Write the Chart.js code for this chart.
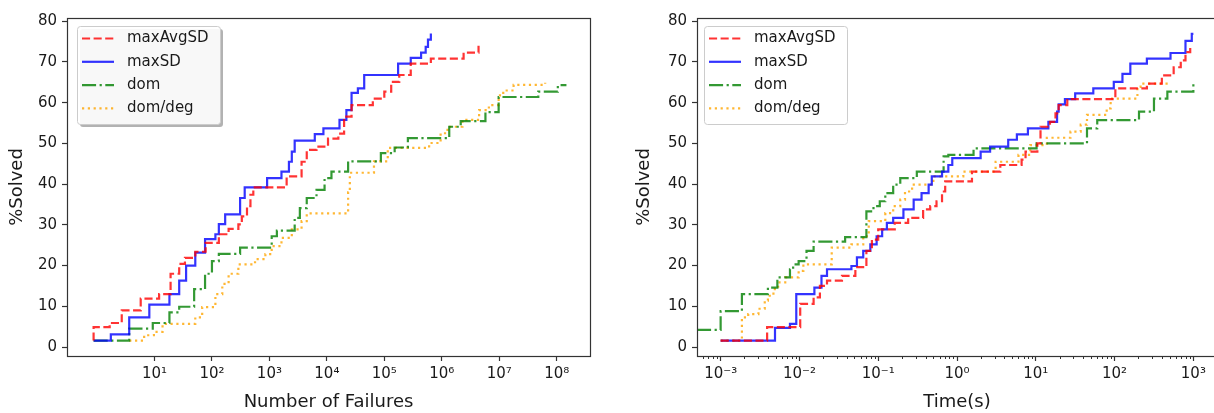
<!DOCTYPE html>
<html>
<head>
<meta charset="utf-8">
<script src="https://cdn.jsdelivr.net/npm/chart.js@4.4.0/dist/chart.umd.min.js"></script>
<style>
  html, body { margin: 0; padding: 0; background: #fff; overflow: hidden; width: 1214px; height: 413px; }
  #failChart { position: absolute; left: 0; top: 0; }
  #timeChart { position: absolute; left: 600px; top: 0; }
</style>
</head>
<body>
<canvas id="failChart" width="600" height="413"></canvas>
<canvas id="timeChart" width="620" height="413"></canvas>
<script>
const seriesNames = ['maxAvgSD', 'maxSD', 'dom', 'dom/deg'];

// left plot: x is log10(number of failures), y is %solved (step-post curves)
const failMaxAvgSDExp = [-0.06, -0.06, 0.22, 0.43, 0.76, 1.08, 1.28, 1.43, 1.53, 1.71, 1.89, 2.12, 2.29, 2.46, 2.52, 2.61, 2.67, 2.72, 3.30, 3.56, 3.65, 3.82, 4.02, 4.20, 4.30, 4.43, 4.80, 5.00, 5.12, 5.26, 5.46, 5.81, 6.38, 6.64];
const failMaxAvgSDPct = [1.6, 4.9, 5.9, 9, 11.9, 13, 18, 20.4, 21.9, 23.4, 25.6, 27.7, 29, 30.1, 32.1, 34.6, 37.4, 39.2, 41.9, 45.5, 48.4, 49.2, 51.2, 52.4, 56.6, 59.4, 61, 62.7, 65.1, 66.8, 69.6, 70.8, 72.3, 74];
const failMaxSDExp = [-0.06, 0.24, 0.56, 0.91, 1.26, 1.43, 1.55, 1.71, 1.88, 2.06, 2.12, 2.23, 2.49, 2.57, 2.96, 3.21, 3.34, 3.39, 3.44, 3.79, 3.94, 4.22, 4.34, 4.43, 4.54, 4.65, 5.24, 5.46, 5.64, 5.72, 5.76, 5.81];
const failMaxSDPct = [1.6, 3.1, 7.3, 10.4, 13, 16.3, 20, 23.2, 26.5, 27.7, 30.2, 32.6, 36.6, 39.2, 41.5, 43.1, 45.5, 48, 50.7, 52.3, 53.7, 55.8, 58.2, 62.4, 63.5, 66.8, 69.6, 71, 72.3, 73.7, 75.5, 77];
const failDomExp = [-0.06, 0.56, 0.97, 1.26, 1.43, 1.69, 1.88, 2.00, 2.12, 2.49, 3.04, 3.13, 3.44, 3.53, 3.65, 3.82, 3.96, 4.08, 4.37, 4.94, 5.18, 5.41, 6.13, 6.33, 6.76, 6.99, 7.68, 8.02, 8.17];
const failDomPct = [1.6, 4.5, 5.9, 8.5, 9.9, 14.2, 18, 21.1, 22.9, 24.4, 27.2, 28.6, 31.7, 34.1, 36.6, 38.6, 41.5, 43.1, 45.6, 47.6, 49, 51.3, 54.1, 55.5, 57.7, 61.4, 62.7, 64.3, 64.3];
const failDomDegExp = [0.56, 0.82, 0.99, 1.14, 1.71, 1.83, 2.06, 2.18, 2.29, 2.46, 2.75, 2.93, 3.04, 3.21, 3.39, 3.56, 3.65, 4.37, 4.40, 4.82, 5.06, 5.78, 5.98, 6.10, 6.36, 6.65, 6.82, 6.99, 7.07, 7.25, 7.80];
const failDomDegPct = [1.6, 2.9, 3.7, 5.7, 7.3, 9.8, 13, 15.5, 18, 20.3, 21.6, 22.8, 24.8, 26.8, 28.9, 30.9, 32.8, 38, 42.8, 45.6, 48.9, 50.1, 52.5, 54.1, 55.8, 58.2, 59.4, 61.8, 63, 64.4, 64.9];

// right plot: x is log10(time in seconds)
const timeMaxAvgSDExp = [-3.0, -2.41, -1.99, -1.82, -1.74, -1.65, -1.46, -1.29, -1.15, -1.08, -1.00, -0.79, -0.62, -0.43, -0.34, -0.26, -0.19, -0.15, 0.19, 0.55, 0.82, 0.87, 1.02, 1.06, 1.18, 1.25, 1.29, 1.40, 2.01, 2.41, 2.60, 2.75, 2.84, 2.90, 2.96];
const timeMaxAvgSDPct = [1.6, 4.9, 10.6, 12.2, 15, 16.3, 17.5, 19.6, 23.6, 26.4, 28.9, 30.5, 31.7, 33.8, 34.6, 35.8, 38.2, 40.7, 43.1, 44.7, 46, 48, 50, 54.1, 55.3, 57.4, 59.4, 60.9, 63.5, 64.7, 66.7, 68.7, 70.4, 72.4, 74];
const timeMaxSDExp = [-3.0, -2.31, -2.12, -2.04, -1.81, -1.72, -1.65, -1.34, -1.27, -1.19, -1.10, -1.02, -0.95, -0.89, -0.81, -0.68, -0.55, -0.45, -0.36, -0.32, -0.19, -0.11, -0.06, 0.30, 0.42, 0.65, 0.76, 0.90, 1.16, 1.27, 1.29, 1.37, 1.50, 1.73, 1.99, 2.10, 2.20, 2.41, 2.71, 2.90, 2.98, 3.0];
const timeMaxSDPct = [1.6, 4.7, 5.7, 13, 14.6, 17.5, 19.1, 19.9, 22, 23.6, 25.2, 27.2, 28.9, 30.5, 31.7, 33.8, 36.2, 37.8, 39.9, 41.9, 43.1, 44.7, 46.4, 48, 49.2, 50.9, 52.2, 53.7, 55.3, 57.8, 59.6, 60.9, 62.3, 63.5, 65.1, 67.1, 69.6, 70.8, 72.2, 75.2, 76.9, 76.9];
const timeDomExp = [-3.3, -3.0, -2.73, -2.40, -2.28, -2.12, -2.08, -2.01, -1.91, -1.82, -1.42, -1.15, -1.06, -0.98, -0.91, -0.81, -0.72, -0.51, -0.17, -0.11, 0.21, 1.01, 1.65, 1.78, 2.31, 2.50, 2.67, 3.0];
const timeDomPct = [4.2, 8.8, 13, 14.6, 17.1, 19.1, 20.3, 21.1, 23.6, 25.9, 27, 33.3, 34.6, 35.8, 37.8, 39.9, 41.5, 43.1, 46.8, 47.2, 48.8, 50, 53.7, 55.7, 57.8, 61, 62.7, 64.7];
const timeDomDegExp = [-3.0, -2.73, -2.65, -2.52, -2.44, -2.40, -2.33, -2.27, -2.18, -2.01, -1.95, -1.59, -1.34, -1.19, -1.12, -0.91, -0.81, -0.72, -0.66, -0.57, -0.30, 0.08, 0.49, 0.78, 0.93, 1.14, 1.44, 1.57, 1.65, 1.90, 1.95, 2.29, 2.33, 2.71];
const timeDomDegPct = [1.6, 7.3, 8.1, 9.4, 11.4, 12.6, 14.2, 15.9, 17.1, 18.7, 20.3, 24.4, 25.2, 27.2, 30.9, 32.9, 34.6, 36.2, 38.2, 39.9, 41.9, 43.1, 45.5, 47.2, 49.6, 51.4, 52.9, 54.6, 57, 58.6, 61, 63.9, 64.7, 64.7];

// axis ticks
const failTicks = [1e1, 1e2, 1e3, 1e4, 1e5, 1e6, 1e7, 1e8];
const failTickLabels = ['10¹', '10²', '10³', '10⁴', '10⁵', '10⁶', '10⁷', '10⁸'];
const timeTicks = [1e-3, 1e-2, 1e-1, 1e0, 1e1, 1e2, 1e3];
const timeTickLabels = ['10⁻³', '10⁻²', '10⁻¹', '10⁰', '10¹', '10²', '10³'];
const pctTicks = [0, 10, 20, 30, 40, 50, 60, 70, 80];

Chart.defaults.font.family = "'DejaVu Sans', sans-serif";
Chart.defaults.font.size = 15;
Chart.defaults.color = '#1a1a1a';

const lw = 2.2;
const styles = [
    { color: 'rgba(255,0,0,0.8)', dash: [8.1, 3.5] },
    { color: 'rgba(0,0,255,0.8)', dash: [] },
    { color: 'rgba(0,128,0,0.8)', dash: [14.1, 3.5, 2.2, 3.5] },
    { color: 'rgba(255,165,0,0.8)', dash: [2.2, 3.6] }
];

function steps(exps, pcts) {
    return exps.map((e, i) => ({ x: Math.pow(10, e), y: pcts[i] }));
}

function makeDatasets(series) {
    return series.map((s, i) => ({
        label: seriesNames[i],
        data: steps(s[0], s[1]),
        borderColor: styles[i].color,
        borderDash: styles[i].dash,
        borderWidth: lw,
        stepped: true,
        fill: false,
        pointRadius: 0,
        tension: 0
    }));
}

// frame around the plot area + matplotlib-like legend box
const framePlugin = {
    id: 'frameLegend',
    afterDraw(chart, args, opts) {
        const ctx = chart.ctx;
        const a = chart.chartArea;
        ctx.save();
        // minor ticks
        if (opts.minor) {
            const xs = chart.scales.x;
            ctx.strokeStyle = '#333';
            ctx.lineWidth = 1;
            for (let d = -4; d <= 3; d++) {
                for (let k = 2; k <= 9; k++) {
                    const v = k * Math.pow(10, d);
                    if (v < xs.min || v > xs.max) continue;
                    const px = Math.round(xs.getPixelForValue(v)) + 0.5;
                    ctx.beginPath();
                    ctx.moveTo(px, a.bottom);
                    ctx.lineTo(px, a.bottom + 3);
                    ctx.stroke();
                }
            }
        }
        ctx.strokeStyle = '#333';
        ctx.lineWidth = 1.2;
        ctx.strokeRect(Math.round(a.left) + 0.5, Math.round(a.top) + 0.5, Math.round(a.right - a.left), Math.round(a.bottom - a.top));

        const bx = a.left + opts.dx, by = a.top + 8, bw = 143, bh = 98;
        if (opts.shadow) {
            ctx.fillStyle = 'rgba(0,0,0,0.3)';
            ctx.beginPath();
            ctx.roundRect(bx + 3, by + 3, bw, bh, 3);
            ctx.fill();
        }
        ctx.beginPath();
        ctx.roundRect(bx + 0.5, by + 0.5, bw, bh, 3);
        ctx.fillStyle = 'rgba(255,255,255,0.9)';
        ctx.fill();
        ctx.strokeStyle = '#cccccc';
        ctx.lineWidth = 1;
        ctx.stroke();
        ctx.font = "15px 'DejaVu Sans'";
        ctx.textBaseline = 'middle';
        chart.data.datasets.forEach((ds, i) => {
            const ly = by + 12.5 + i * 23.3;
            ctx.strokeStyle = ds.borderColor;
            ctx.lineWidth = ds.borderWidth;
            ctx.setLineDash(ds.borderDash);
            ctx.beginPath();
            ctx.moveTo(bx + 5, ly);
            ctx.lineTo(bx + 37, ly);
            ctx.stroke();
            ctx.setLineDash([]);
            ctx.fillStyle = '#1a1a1a';
            ctx.fillText(ds.label, bx + 50, ly);
        });
        ctx.restore();
    }
};

function makeChart(id, cfg) {
    return new Chart(document.getElementById(id), {
        type: 'line',
        data: { datasets: makeDatasets(cfg.series) },
        options: {
            responsive: false,
            animation: false,
            devicePixelRatio: 1,
            layout: { padding: { top: 18, right: cfg.padRight, bottom: 0, left: 0 } },
            plugins: {
                legend: { display: false },
                tooltip: { enabled: false },
                frameLegend: { dx: cfg.legendDx, shadow: cfg.shadow, minor: cfg.minor }
            },
            scales: {
                x: {
                    type: 'logarithmic',
                    min: cfg.xMin,
                    max: cfg.xMax,
                    afterBuildTicks: s => { s.ticks = cfg.ticks.map(v => ({ value: v })); },
                    afterFit: s => { s.height = 57; },
                    ticks: { callback: (v, i) => cfg.tickLabels[i], autoSkip: false, maxRotation: 0, padding: 4 },
                    grid: { drawOnChartArea: false, tickLength: 5, tickColor: '#333', tickWidth: 1.2 },
                    border: { display: false },
                    title: { display: true, text: cfg.xTitle, font: { size: 18 }, padding: { top: 0, bottom: 0 } }
                },
                y: {
                    min: -2.2,
                    max: 80.8,
                    afterBuildTicks: s => { s.ticks = pctTicks.map(v => ({ value: v })); },
                    afterFit: s => { s.width = cfg.yWidth; },
                    ticks: { padding: 5 },
                    grid: { drawOnChartArea: false, tickLength: 5, tickColor: '#333', tickWidth: 1.2 },
                    border: { display: false },
                    title: { display: true, text: '%Solved', font: { size: 18 }, padding: { top: cfg.yTitlePad, bottom: 0 } }
                }
            }
        },
        plugins: [framePlugin]
    });
}

makeChart('failChart', {
    series: [[failMaxAvgSDExp, failMaxAvgSDPct], [failMaxSDExp, failMaxSDPct], [failDomExp, failDomPct], [failDomDegExp, failDomDegPct]],
    xMin: Math.pow(10, -0.47), xMax: Math.pow(10, 8.58),
    ticks: failTicks, tickLabels: failTickLabels,
    xTitle: 'Number of Failures',
    yWidth: 67, yTitlePad: 7, padRight: 10,
    legendDx: 10, shadow: true, minor: false
});

makeChart('timeChart', {
    series: [[timeMaxAvgSDExp, timeMaxAvgSDPct], [timeMaxSDExp, timeMaxSDPct], [timeDomExp, timeDomPct], [timeDomDegExp, timeDomDegPct]],
    xMin: Math.pow(10, -3.3), xMax: Math.pow(10, 3.3),
    ticks: timeTicks, tickLabels: timeTickLabels,
    xTitle: 'Time(s)',
    yWidth: 97, yTitlePad: 34, padRight: 3,
    legendDx: 7, shadow: false, minor: true
});
</script>
</body>
</html>
